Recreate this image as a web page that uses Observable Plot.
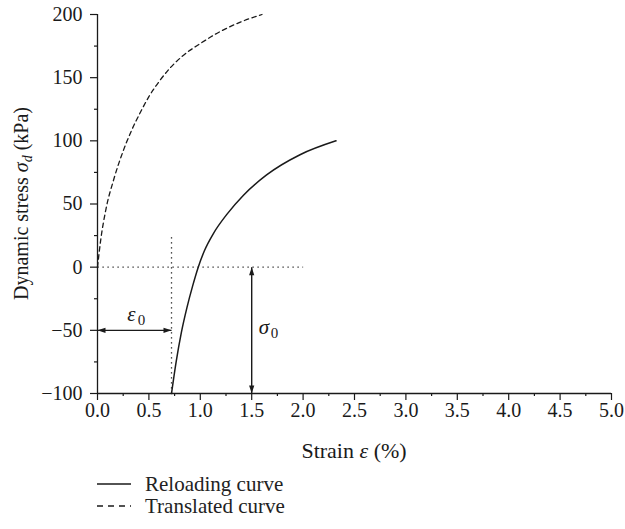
<!DOCTYPE html>
<html><head><meta charset="utf-8">
<script src="https://cdn.jsdelivr.net/npm/d3@7"></script>
<script src="https://cdn.jsdelivr.net/npm/@observablehq/plot@0.6"></script>
<style>
body{margin:0;background:#fff;font-family:"Liberation Serif","Times New Roman",serif;color:#222;overflow:hidden;}
#legend{position:relative;height:61px;font-size:21px;}
.row{position:absolute;left:97px;display:flex;align-items:center;height:24px;}
.row span{margin-left:14px;}
</style></head><body>
<div id="chart"></div>
<div id="legend"></div>
<script>
// Reloading curve (solid)
const reloadStrain = [0.72,0.765,0.815,0.87,0.925,0.98,1.04,1.13,1.26,1.42,1.645,1.97,2.32];
const reloadStress = [-100,-75,-52,-32,-15,0,13,27,42,57,73,89,100];
// Translated curve (dashed)
const translatedStrain = [0,0.032,0.08,0.16,0.25,0.33,0.42,0.5,0.6,0.71,0.84,1.0,1.16,1.39,1.6];
const translatedStress = [0,22,45,70,92,108,123,135,147,158,168,177,185,194,200];
// Annotation values
const epsilon0 = 0.72;
const sigma0Strain = 1.5;
const sigma0Range = [-100, 0];
const epsArrowStress = -50;
const zeroLineEnd = 2.0;
const epsLineTop = 25;
// Ticks
const xTicks = [0,0.5,1,1.5,2,2.5,3,3.5,4,4.5,5];
const xMinor = [0.25,0.75,1.25,1.75,2.25,2.75,3.25,3.75,4.25,4.75];
const yTicks = [-100,-50,0,50,100,150,200];
const yMinor = [-75,-25,25,75,125,175];
const legendNames = ["Reloading curve","Translated curve"];

const reload = reloadStrain.map((x,i)=>({x, y: reloadStress[i]}));
const translated = translatedStrain.map((x,i)=>({x, y: translatedStress[i]}));

const ink = "#1a1a1a";
const arrowHead = {draw(ctx){ ctx.moveTo(0,0); ctx.lineTo(-2.6,8); ctx.lineTo(2.6,8); ctx.closePath(); }};
const heads = [
  {x:0, y:epsArrowStress, r:-90},
  {x:epsilon0, y:epsArrowStress, r:90},
  {x:sigma0Strain, y:sigma0Range[1], r:0},
  {x:sigma0Strain, y:sigma0Range[0], r:180}
];

const W = 625, H = 468, ML = 97, MR = 14, MT = 14, MB = 75;
const plot = Plot.plot({
  width: W, height: H,
  marginLeft: ML, marginRight: MR, marginTop: MT, marginBottom: MB,
  style: {fontFamily: '"Liberation Serif","Times New Roman",serif', fontSize: "20px", color: ink, background: "#fff", overflow: "visible"},
  x: {domain: [0,5]},
  y: {domain: [-100,200]},
  marks: [
    Plot.ruleX([0], {stroke: ink, strokeWidth: 1.3}),
    Plot.ruleY([-100], {stroke: ink, strokeWidth: 1.3}),
    Plot.axisX({ticks: xTicks, tickFormat: d3.format(".1f"), tickSize: 7, tickPadding: 2, stroke: ink, strokeWidth: 1.2, label: null}),
    Plot.axisX({ticks: xMinor, tickFormat: () => "", tickSize: 3, stroke: ink, strokeWidth: 1.2, label: null}),
    Plot.axisY({ticks: yTicks, tickSize: 7, tickPadding: 8, stroke: ink, strokeWidth: 1.2, label: null}),
    Plot.axisY({ticks: yMinor, tickFormat: () => "", tickSize: 3, stroke: ink, strokeWidth: 1.2, label: null}),
    // dotted guides
    Plot.link([{x1:0, y1:0, x2:zeroLineEnd, y2:0}], {x1:"x1", y1:"y1", x2:"x2", y2:"y2", stroke: ink, strokeWidth: 1.3, strokeDasharray: "1.2,3.8"}),
    Plot.link([{x1:epsilon0, y1:-100, x2:epsilon0, y2:epsLineTop}], {x1:"x1", y1:"y1", x2:"x2", y2:"y2", stroke: ink, strokeWidth: 1.3, strokeDasharray: "1.2,3.8"}),
    // curves
    Plot.line(translated, {x:"x", y:"y", curve:"monotone-x", stroke: ink, strokeWidth: 1.3, strokeDasharray: "4.5,3.5"}),
    Plot.line(reload, {x:"x", y:"y", curve:"monotone-x", stroke: ink, strokeWidth: 1.5}),
    // arrows
    Plot.link([{x1:0, y1:epsArrowStress, x2:epsilon0, y2:epsArrowStress}], {x1:"x1", y1:"y1", x2:"x2", y2:"y2", stroke: ink, strokeWidth: 1.4}),
    Plot.link([{x1:sigma0Strain, y1:sigma0Range[0], x2:sigma0Strain, y2:sigma0Range[1]}], {x1:"x1", y1:"y1", x2:"x2", y2:"y2", stroke: ink, strokeWidth: 1.4}),
    Plot.dot(heads, {x:"x", y:"y", rotate:"r", symbol: arrowHead, fill: ink, stroke: "none", r: 3}),
    // labels
    Plot.text([{x: epsilon0/2, y: epsArrowStress}], {x:"x", y:"y", text: () => "ε", fontStyle: "italic", fontSize: 21, dx: -3, dy: -16}),
    Plot.text([{x: epsilon0/2, y: epsArrowStress}], {x:"x", y:"y", text: () => "0", fontSize: 15, dx: 7, dy: -10}),
    Plot.text([{x: sigma0Strain, y: (sigma0Range[0]+sigma0Range[1])/2}], {x:"x", y:"y", text: () => "σ", fontStyle: "italic", fontSize: 21, textAnchor: "start", dx: 7, dy: -3}),
    Plot.text([{x: sigma0Strain, y: (sigma0Range[0]+sigma0Range[1])/2}], {x:"x", y:"y", text: () => "0", fontSize: 15, textAnchor: "start", dx: 19, dy: 3})
  ]
});
document.getElementById("chart").appendChild(plot);

// axis labels with italic symbols
const svg = d3.select(plot);
const xl = svg.append("text").attr("x", ML + (W-ML-MR)/2).attr("y", 458).attr("text-anchor","middle")
  .attr("fill", ink).style("font-size","22px");
xl.append("tspan").text("Strain ");
xl.append("tspan").attr("font-style","italic").text("ε");
xl.append("tspan").text(" (%)");
const yl = svg.append("text").attr("transform", `translate(28,${MT + (H-MT-MB)/2}) rotate(-90)`).attr("text-anchor","middle")
  .attr("fill", ink).style("font-size","20px");
yl.append("tspan").text("Dynamic stress ");
yl.append("tspan").attr("font-style","italic").text("σ");
yl.append("tspan").attr("font-style","italic").attr("font-size","14px").attr("dy", 4).text("d");
yl.append("tspan").attr("dy", -4).text(" (kPa)");

// legend
const lg = document.getElementById("legend");
legendNames.forEach((name, i) => {
  const row = document.createElement("div");
  row.className = "row";
  row.style.top = (4 + i*22) + "px";
  row.innerHTML = `<svg width="34" height="10"><line x1="0" x2="34" y1="5" y2="5" stroke="${ink}" stroke-width="1.3" ${i===1 ? 'stroke-dasharray="6,5"' : ''}/></svg><span>${name}</span>`;
  lg.appendChild(row);
});
</script>
</body></html>
